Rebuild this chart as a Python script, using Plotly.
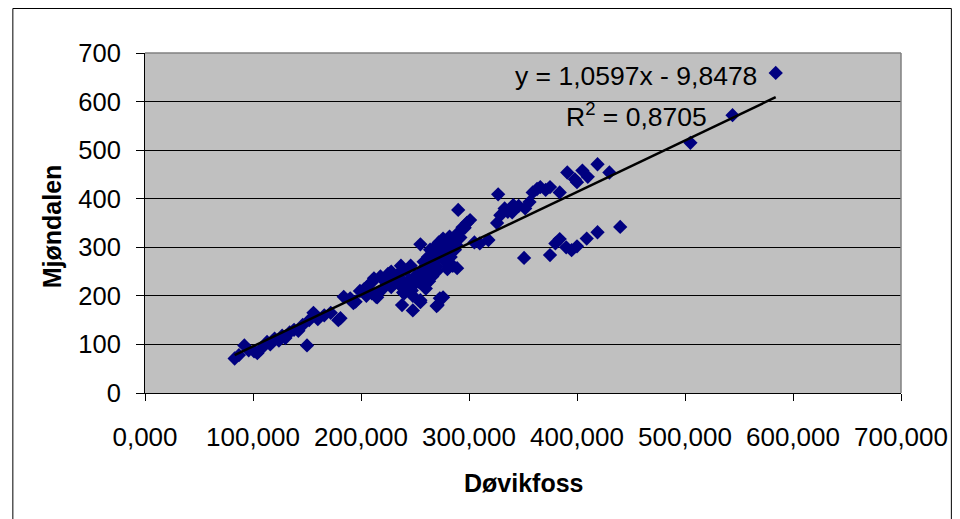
import numpy as np
import plotly.graph_objects as go

# Døvikfoss (x) and Mjøndalen (y) values
dovikfoss = [83, 87, 92, 96, 101, 104, 108, 113, 116, 120, 124, 127, 130, 134, 138, 142, 146, 150, 152, 156,
             160, 166, 172, 179, 181, 184, 190, 193, 195, 199, 203, 205, 206, 210, 210, 212, 214, 215, 216, 218,
             220, 221, 224, 225, 228, 228, 231, 232, 234, 236, 237, 238, 238, 239, 240, 242, 242, 245, 246, 247,
             248, 248, 250, 250, 252, 254, 255, 255, 255, 256, 258, 258, 259, 260, 260, 262, 262, 263, 264, 265,
             266, 266, 268, 268, 270, 270, 270, 271, 272, 272, 273, 274, 275, 276, 276, 278, 278, 280, 280, 280,
             282, 283, 284, 285, 285, 286, 287, 288, 289, 290, 290, 292, 294, 296, 298, 301, 305, 310, 318, 326,
             327, 329, 333, 336, 340, 341, 346, 351, 352, 356, 359, 363, 366, 371, 375, 375, 380, 384, 384, 390,
             391, 395, 398, 400, 400, 405, 409, 410, 419, 419, 430, 440, 505, 544, 584]
mjondalen = [71, 78, 98, 88, 86, 82, 92, 105, 100, 112, 108, 118, 113, 125, 130, 128, 140, 98, 150, 165,
             152, 160, 165, 150, 154, 198, 195, 185, 188, 210, 214, 200, 220, 228, 205, 236, 198, 197, 206, 240,
             214, 232, 226, 245, 250, 218, 238, 228, 244, 222, 262, 232, 181, 207, 205, 252, 220, 232, 262, 211,
             170, 200, 240, 225, 232, 228, 187, 306, 191, 250, 270, 240, 222, 262, 215, 280, 265, 230, 295, 245,
             285, 240, 300, 272, 179, 260, 250, 181, 310, 283, 195, 290, 300, 197, 318, 270, 305, 300, 288, 255,
             322, 280, 300, 310, 262, 318, 295, 305, 257, 377, 330, 320, 341, 340, 350, 356, 310, 308, 315, 350,
             409, 366, 380, 373, 372, 387, 385, 278, 380, 393, 413, 420, 424, 418, 424, 284, 308, 317, 413, 300,
             454, 294, 440, 434, 302, 458, 318, 445, 471, 331, 454, 342, 515, 572, 659]

# Trendline coefficients as printed on the chart
slope = 1.0597
intercept = -9.8478
equation_text = "y = 1,0597x - 9,8478"
r2_text = "R<sup>2</sup> = 0,8705"

x_ticks = [0, 100, 200, 300, 400, 500, 600, 700]
x_tick_labels = ["0,000", "100,000", "200,000", "300,000", "400,000", "500,000", "600,000", "700,000"]
y_ticks = [0, 100, 200, 300, 400, 500, 600, 700]

FONT = "Liberation Sans, Arial, sans-serif"
NAVY = "#000080"

W, H = 960, 519
L, R, T, B = 145, 903, 53, 393  # plot area in pixels


def px(xp):
    return (xp - L) / (R - L)


def py(yp):
    return (B - yp) / (B - T)


trend_x = np.array([min(dovikfoss), max(dovikfoss)], dtype=float)
trend_y = slope * trend_x + intercept

fig = go.Figure()
fig.add_trace(go.Scatter(
    x=dovikfoss, y=mjondalen, mode="markers",
    marker=dict(symbol="diamond", size=11, color=NAVY, line=dict(width=0)),
    showlegend=False, hoverinfo="x+y",
))
fig.add_trace(go.Scatter(
    x=trend_x, y=trend_y, mode="lines",
    line=dict(color="black", width=2.5),
    showlegend=False, hoverinfo="skip",
))

fig.update_layout(
    width=W, height=H,
    margin=dict(l=L, r=W - R, t=T, b=H - B),
    paper_bgcolor="white",
    plot_bgcolor="#C0C0C0",
    font=dict(family=FONT, color="black", size=26),
    xaxis=dict(
        range=[0, 700], tickvals=x_ticks, ticktext=x_tick_labels,
        showgrid=False, zeroline=False,
        showline=True, linecolor="black", linewidth=1,
        ticks="outside", ticklen=7, tickcolor="black",
        ticklabelstandoff=14,
        tickfont=dict(family=FONT, size=26),
        fixedrange=True,
    ),
    yaxis=dict(
        range=[0, 700], tickvals=y_ticks,
        showgrid=True, gridcolor="black", gridwidth=1,
        zeroline=False,
        showline=True, linecolor="black", linewidth=1,
        ticks="outside", ticklen=8, tickcolor="black",
        ticklabelstandoff=10,
        tickfont=dict(family=FONT, size=25.5),
        fixedrange=True,
    ),
    shapes=[
        dict(type="line", xref="x domain", yref="y domain", x0=0, x1=1, y0=1, y1=1,
             line=dict(color="#808080", width=1.5)),
        dict(type="line", xref="x domain", yref="y domain", x0=1, x1=1, y0=0, y1=1,
             line=dict(color="#808080", width=1.5)),
        dict(type="rect", xref="paper", yref="paper",
             x0=px(12.5), x1=px(953.5), y0=py(530), y1=py(8.5),
             line=dict(color="black", width=1), layer="below"),
    ],
    annotations=[
        dict(text="<b>Døvikfoss</b>", xref="paper", yref="paper",
             x=px(524), y=py(483), xanchor="center", yanchor="middle",
             showarrow=False, font=dict(family=FONT, size=25)),
        dict(text="<b>Mjøndalen</b>", xref="paper", yref="paper",
             x=px(52), y=py(226), xanchor="center", yanchor="middle",
             textangle=-90, showarrow=False, font=dict(family=FONT, size=25)),
        dict(text=equation_text, xref="paper", yref="paper",
             x=px(637), y=py(76), xanchor="center", yanchor="middle",
             showarrow=False, font=dict(family=FONT, size=26.5)),
        dict(text=r2_text, xref="paper", yref="paper",
             x=px(638), y=py(115), xanchor="center", yanchor="middle",
             showarrow=False, font=dict(family=FONT, size=26.5)),
    ],
)

fig.write_html("out.html")
